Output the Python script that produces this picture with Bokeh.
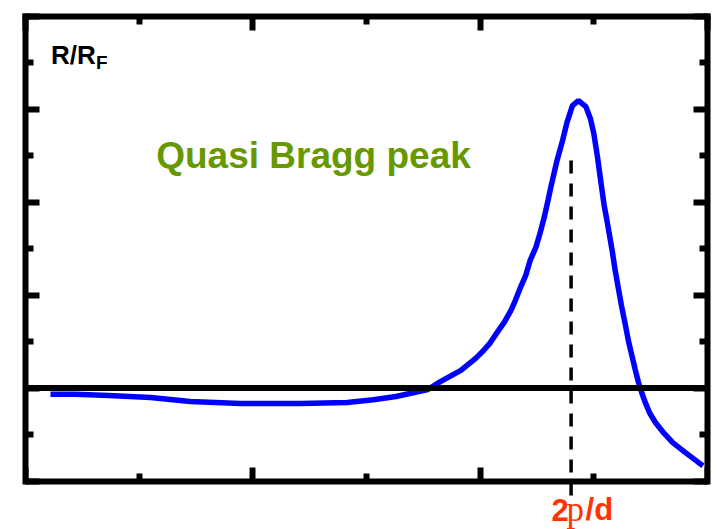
from bokeh.plotting import figure
from bokeh.models import (FixedTicker, Span, CustomJSTickFormatter,
                          LinearAxis, Range1d)
from bokeh.core.properties import value
from bokeh.embed import file_html
from bokeh.resources import INLINE

# Reflectivity ratio R/R_F versus momentum transfer q (arbitrary units)
q = [0.22, 0.44, 0.73, 1.10, 1.45, 1.89, 2.42, 2.83, 3.06, 3.26, 3.43, 3.54,
     3.65, 3.83, 3.96, 4.03, 4.09, 4.15, 4.21, 4.27, 4.31, 4.35, 4.40, 4.44,
     4.49, 4.526, 4.561, 4.597, 4.623, 4.672, 4.725, 4.764, 4.812, 4.865,
     4.93, 4.97, 5.00, 5.03, 5.06, 5.091, 5.111, 5.138, 5.164, 5.188, 5.214,
     5.243, 5.275, 5.306, 5.337, 5.362, 5.393, 5.420, 5.446, 5.490, 5.542,
     5.613, 5.692, 5.806, 5.920, 5.96]
r_over_rf = [1.87, 1.87, 1.84, 1.80, 1.71, 1.67, 1.67, 1.69, 1.75, 1.82, 1.91,
             1.97, 2.14, 2.38, 2.64, 2.81, 2.98, 3.20, 3.41, 3.67, 3.89, 4.14,
             4.42, 4.75, 5.03, 5.33, 5.65, 6.04, 6.34, 6.86, 7.33, 7.72, 8.08,
             8.19, 8.06, 7.80, 7.48, 7.01, 6.47, 5.93, 5.67, 5.29, 4.92, 4.53,
             4.17, 3.78, 3.39, 3.00, 2.68, 2.42, 2.12, 1.91, 1.73, 1.47, 1.26,
             1.04, 0.83, 0.61, 0.40, 0.33]

baseline_level = 2.0       # reference level R/R_F
bragg_q = 4.80             # position 2p/d of the quasi Bragg peak
bragg_marker_top = 6.90
bragg_marker_bottom = -0.31

x_major = [0, 2, 4, 6]
x_minor = [1, 3, 5]
y_major = [0, 2, 4, 6, 8, 10]
y_minor = [1, 3, 5, 7, 9]

# the plotting area reaches down to the bottom edge so the q label fits below the box
p = figure(width=717, height=529, x_range=Range1d(0, 6), y_range=Range1d(-1.044, 10),
           output_backend="svg", toolbar_location=None,
           min_border_left=25, min_border_right=10,
           min_border_top=16, min_border_bottom=0)
p.grid.visible = False
p.outline_line_color = None
p.background_fill_color = "white"
p.border_fill_color = "white"

p.add_layout(LinearAxis(), "above")
p.add_layout(LinearAxis(), "right")

# bottom edge of the box sits at R/R_F = 0
p.below[0].fixed_location = 0

for ax in p.xaxis:
    ax.ticker = FixedTicker(ticks=x_major, minor_ticks=x_minor)
for ax in p.yaxis:
    ax.ticker = FixedTicker(ticks=y_major, minor_ticks=y_minor)
    ax.bounds = (0, 10)

for ax in list(p.xaxis) + list(p.yaxis):
    ax.formatter = CustomJSTickFormatter(code="return ''")
    ax.major_label_text_font_size = "0px"
    ax.major_label_standoff = 0
    ax.axis_line_width = 6
    ax.axis_line_color = "black"
    ax.axis_line_cap = "square"
    ax.major_tick_line_width = 6
    ax.minor_tick_line_width = 6
    ax.major_tick_line_color = "black"
    ax.minor_tick_line_color = "black"
    ax.major_tick_in = 14
    ax.minor_tick_in = 8
    ax.major_tick_out = 0
    ax.minor_tick_out = 0

# reference level
p.add_layout(Span(location=baseline_level, dimension="width",
                  line_color="black", line_width=6))

# measured curve
p.line(q, r_over_rf, line_color="#0000ff", line_width=5.5)

# dashed marker at the Bragg position
p.line([bragg_q, bragg_q], [bragg_marker_top, bragg_marker_bottom],
       line_color="black", line_width=3.5, line_dash="13 10")

def put_text(x, y, s, size, color, font="Liberation Sans", style="bold"):
    p.text(x=[x], y=[y], text=[s], text_font=value(font), text_font_style=style,
           text_font_size=size, text_color=color, text_baseline="alphabetic",
           text_align="left")

put_text(0.225, 9.178, "R/R", "26px", "black")
put_text(0.621, 9.008, "F", "19px", "black")
put_text(1.150, 7.014, "Quasi Bragg peak", "37px", "#669900")

label_red = "#ff3300"
put_text(4.627, -0.614, "2", "31px", label_red)
put_text(4.760, -0.614, "p", "35px", label_red, font="Liberation Serif", style="normal")
put_text(4.927, -0.614, "/d", "31px", label_red)

open("out.html", "w").write(file_html(p, INLINE))
